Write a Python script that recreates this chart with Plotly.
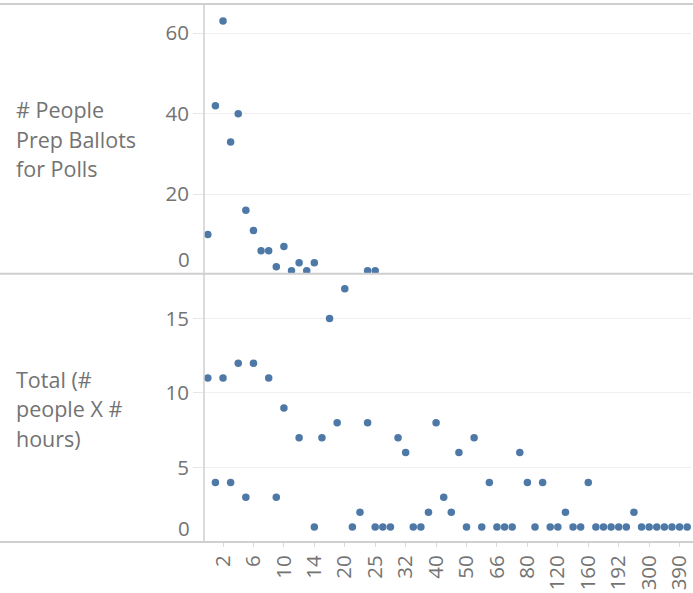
import plotly.graph_objects as go

# ---- data ----
categories = ["0", "1", "2", "3", "4", "5", "6", "7", "8", "9", "10", "11", "12", "13", "14",
              "15", "16", "18", "20", "21", "22", "24", "25", "27", "28", "30", "32", "35", "36",
              "38", "40", "42", "45", "48", "50", "54", "56", "60", "66", "70", "72", "75", "80",
              "90", "96", "100", "120", "128", "140", "144", "160", "168", "175", "180", "192",
              "200", "240", "250", "300", "320", "336", "360", "390", "480"]

people_prep = [10, 42, 63, 33, 40, 16, 11, 6, 6, 2, 7, 1, 3, 1, 3,
               None, None, None, None, None, None, 1, 1] + [None] * 41

total_hours = [11, 4, 11, 4, 12, 3, 12, None, 11, 3, 9, None, 7, None, 1,
               7, 15, 8, 17, 1, 2, 8, 1, 1, 1, 7, 6, 1, 1, 2, 8, 3, 2, 6, 1, 7, 1, 4,
               1, 1, 1, 6, 4, 1, 4, 1, 1, 2, 1, 1, 4, 1, 1, 1, 1, 1, 2, 1, 1, 1, 1, 1, 1, 1]

shown_x_labels = ["2", "6", "10", "14", "20", "25", "32", "40", "50", "66", "80",
                  "120", "160", "192", "300", "390"]

top_ticks = [20, 40, 60]
bottom_ticks = [5, 10, 15]

top_title = ["# People", "Prep Ballots", "for Polls"]
bottom_title = ["Total (#", "people X #", "hours)"]

# ---- figure ----
W, H = 693, 593
ML, MR, MT, MB = 204, 2, 4, 50.5
PW = W - ML - MR
PH = H - MT - MB
split_px = 274
split = (H - MB - split_px) / PH

FONT = "Open Sans"
GRAY = "#737373"
DOT = "#4e79a7"

def px_to_paper_x(px):
    return (px - ML) / PW

def px_to_paper_y(py):
    return (H - MB - py) / PH

fig = go.Figure()
fig.add_trace(go.Scatter(x=categories, y=people_prep, mode="markers", xaxis="x", yaxis="y2",
                         marker=dict(color=DOT, size=7.5), hoverinfo="x+y"))
fig.add_trace(go.Scatter(x=categories, y=total_hours, mode="markers", xaxis="x", yaxis="y",
                         marker=dict(color=DOT, size=7.5), hoverinfo="x+y"))

tickfont = dict(family=FONT, size=20.5, color=GRAY)

fig.update_layout(
    width=W, height=H,
    margin=dict(l=ML, r=MR, t=MT, b=MB, pad=0, autoexpand=False),
    paper_bgcolor="white", plot_bgcolor="white",
    showlegend=False,
    xaxis=dict(type="category", categoryorder="array", categoryarray=categories,
               range=[-0.5, len(categories) - 0.5], automargin=False,
               tickmode="array", tickvals=shown_x_labels, ticktext=shown_x_labels,
               tickangle=-90, tickfont=tickfont, ticks="outside", ticklen=4,
               tickcolor="#d9d9d9", showgrid=False, showline=False, zeroline=False,
               anchor="y"),
    yaxis=dict(domain=[0, split], range=[0, 18.0], tickvals=bottom_ticks, automargin=False,
               tickfont=tickfont, ticks="outside", ticklen=10, tickcolor="#e6e6e6",
               showgrid=True, gridcolor="#efefef", gridwidth=1, zeroline=False,
               showline=False, anchor="x"),
    yaxis2=dict(domain=[split, 1], range=[0.26, 67.25], tickvals=top_ticks, automargin=False,
                tickfont=tickfont, ticks="outside", ticklen=10, tickcolor="#e6e6e6",
                showgrid=True, gridcolor="#efefef", gridwidth=1, zeroline=False,
                showline=False, anchor="x"),
)

line_col = "#cfcfcf"
x_left = px_to_paper_x(0)
x_right = px_to_paper_x(W)
shapes = [
    dict(type="line", xref="paper", yref="paper", x0=x_left, x1=x_right, y0=1, y1=1,
         line=dict(color=line_col, width=2)),
    dict(type="line", xref="paper", yref="paper", x0=x_left, x1=x_right, y0=split, y1=split,
         line=dict(color=line_col, width=2)),
    dict(type="line", xref="paper", yref="paper", x0=x_left, x1=x_right, y0=0, y1=0,
         line=dict(color=line_col, width=2)),
    dict(type="line", xref="paper", yref="paper", x0=0, x1=0, y0=0, y1=1,
         line=dict(color=line_col, width=1.5)),
]
fig.update_layout(shapes=shapes)

annotations = []
title_font = dict(family=FONT, size=21.5, color=GRAY)
for i, t in enumerate(top_title):
    annotations.append(dict(text=t, xref="paper", yref="paper", x=px_to_paper_x(14),
                            y=px_to_paper_y(110 + 29.3 * i), xanchor="left", yanchor="middle",
                            showarrow=False, font=title_font))
for i, t in enumerate(bottom_title):
    annotations.append(dict(text=t, xref="paper", yref="paper", x=px_to_paper_x(14),
                            y=px_to_paper_y(380 + 29.3 * i), xanchor="left", yanchor="middle",
                            showarrow=False, font=title_font))
# zero labels placed inside the panels, as in the original
annotations.append(dict(text="0", xref="paper", yref="paper", x=px_to_paper_x(192),
                        y=px_to_paper_y(259), xanchor="right", yanchor="middle",
                        showarrow=False, font=tickfont))
annotations.append(dict(text="0", xref="paper", yref="paper", x=px_to_paper_x(192),
                        y=px_to_paper_y(528), xanchor="right", yanchor="middle",
                        showarrow=False, font=tickfont))
fig.update_layout(annotations=annotations)

fig.write_html("out.html", config={"displayModeBar": False},
               post_script="document.body.style.margin='0px';")
